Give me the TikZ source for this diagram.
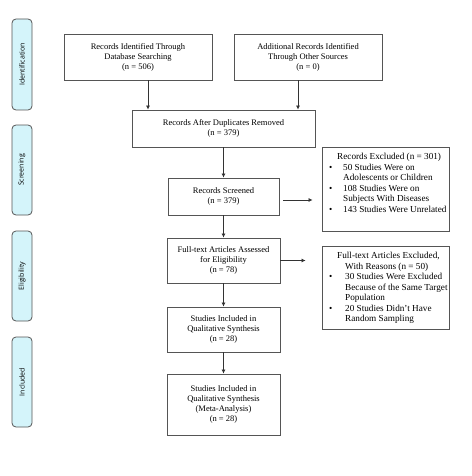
\documentclass[tikz,border=0pt]{standalone}
\usepackage{fontspec}
\setmainfont{Liberation Serif}
\newfontfamily\sidefont{Open Sans}
\usetikzlibrary{arrows.meta,calc}
\definecolor{sidefill}{HTML}{D4F4FA}
\definecolor{linegray}{HTML}{555555}
\newcommand{\bul}{\makebox[14pt][l]{\textbullet}}
\newcommand{\ind}[1]{\makebox[#1][l]{}}
\begin{document}
\begin{tikzpicture}[x=1pt,y=-1pt,
  box/.style={draw=linegray,line width=0.8pt,fill=white,align=center,inner sep=0pt,
    font=\fontsize{8.5}{10}\selectfont},
  sidebox/.style={draw=linegray,line width=0.8pt,fill=sidefill,rounded corners=4pt,
    minimum width=20pt,inner sep=0pt},
  sidetext/.style={rotate=90,font=\sidefont\fontsize{7}{8}\selectfont,text=black},
  arr/.style={draw=black!80,line width=0.7pt,-{Latex[length=4pt,width=4pt]}},
  listtext/.style={anchor=north west,align=left,inner sep=0pt,
    font=\fontsize{9.2}{10.5}\selectfont}
]
\useasboundingbox (0,0) rectangle (471,476);

% side labels
\node[sidebox,minimum height=91pt] (s1) at (22,64.5) {};
\node[sidetext] (t1) at (s1.center) {Identification};
\node[sidebox,minimum height=90pt] (s2) at (22,170) {};
\node[sidetext] (t2) at (s2.center) {Screening};
\node[sidebox,minimum height=90pt] (s3) at (22,276) {};
\node[sidetext] (t3) at (s3.center) {Eligibility};
\node[sidebox,minimum height=90pt] (s4) at (22,382) {};
\node[sidetext] (t4) at (s4.center) {Included};

% main boxes
\node[box,minimum width=148pt,minimum height=46pt] (b1) at (138,57)
  {Records Identified Through\\Database Searching\\(n = 506)};
\node[box,minimum width=148pt,minimum height=46pt] (b2) at (308,57)
  {Additional Records Identified\\Through Other Sources\\(n = 0)};
\node[box,minimum width=183pt,minimum height=37pt] (b3) at (223.5,128.5)
  {Records After Duplicates Removed\\(n = 379)};
\node[box,minimum width=111pt,minimum height=37pt] (b4) at (223.5,196.5)
  {Records Screened\\(n = 379)};
\node[box,minimum width=113pt,minimum height=45pt] (b5) at (223.5,260.5)
  {Full-text Articles Assessed\\for Eligibility\\(n = 78)};
\node[box,minimum width=113pt,minimum height=45pt] (b6) at (223.5,329.5)
  {Studies Included in\\Qualitative Synthesis\\(n = 28)};
\node[box,minimum width=113pt,minimum height=61pt] (b7) at (223.5,404.5)
  {Studies Included in\\Qualitative Synthesis\\(Meta-Analysis)\\(n = 28)};

% exclusion boxes
\node[box,minimum width=127pt,minimum height=84pt] (e1) at (385.5,189) {};
\node[listtext] (e1t) at (329,153)
  {\ind{8pt}Records Excluded (n = 301)\\
   \bul 50 Studies Were on\\
   \ind{14pt}Adolescents or Children\\
   \bul 108 Studies Were on\\
   \ind{14pt}Subjects With Diseases\\
   \bul 143 Studies Were Unrelated};
\node[box,minimum width=127pt,minimum height=83pt] (e2) at (385.5,287.5) {};
\node[listtext] (e2t) at (329,252)
  {\ind{8pt}Full-text Articles Excluded,\\
   \ind{16pt}With Reasons (n = 50)\\
   \makebox[16pt][l]{\textbullet}30 Studies Were Excluded\\
   \ind{16pt}Because of the Same Target\\
   \ind{16pt}Population\\
   \makebox[16pt][l]{\textbullet}20 Studies Didn't Have\\
   \ind{16pt}Random Sampling};

% arrows
\draw[arr] ([xshift=10pt]b1.south) -- ([xshift=10pt]b1.south |- b3.north);
\draw[arr] ([xshift=-10pt]b2.south) -- ([xshift=-10pt]b2.south |- b3.north);
\draw[arr] (b3.south -| b4.north) -- (b4.north);
\draw[arr] (b4) -- (b5);
\draw[arr] (b5) -- (b6);
\draw[arr] (b6) -- (b7);
\draw[arr,shorten <=4pt,shorten >=9pt] ([yshift=-3.5pt]b4.east) -- ([yshift=-3.5pt]b4.east -| e1.west);
\draw[arr,shorten >=16pt] (b5.east) -- (b5.east -| e2.west);
\end{tikzpicture}
\end{document}
